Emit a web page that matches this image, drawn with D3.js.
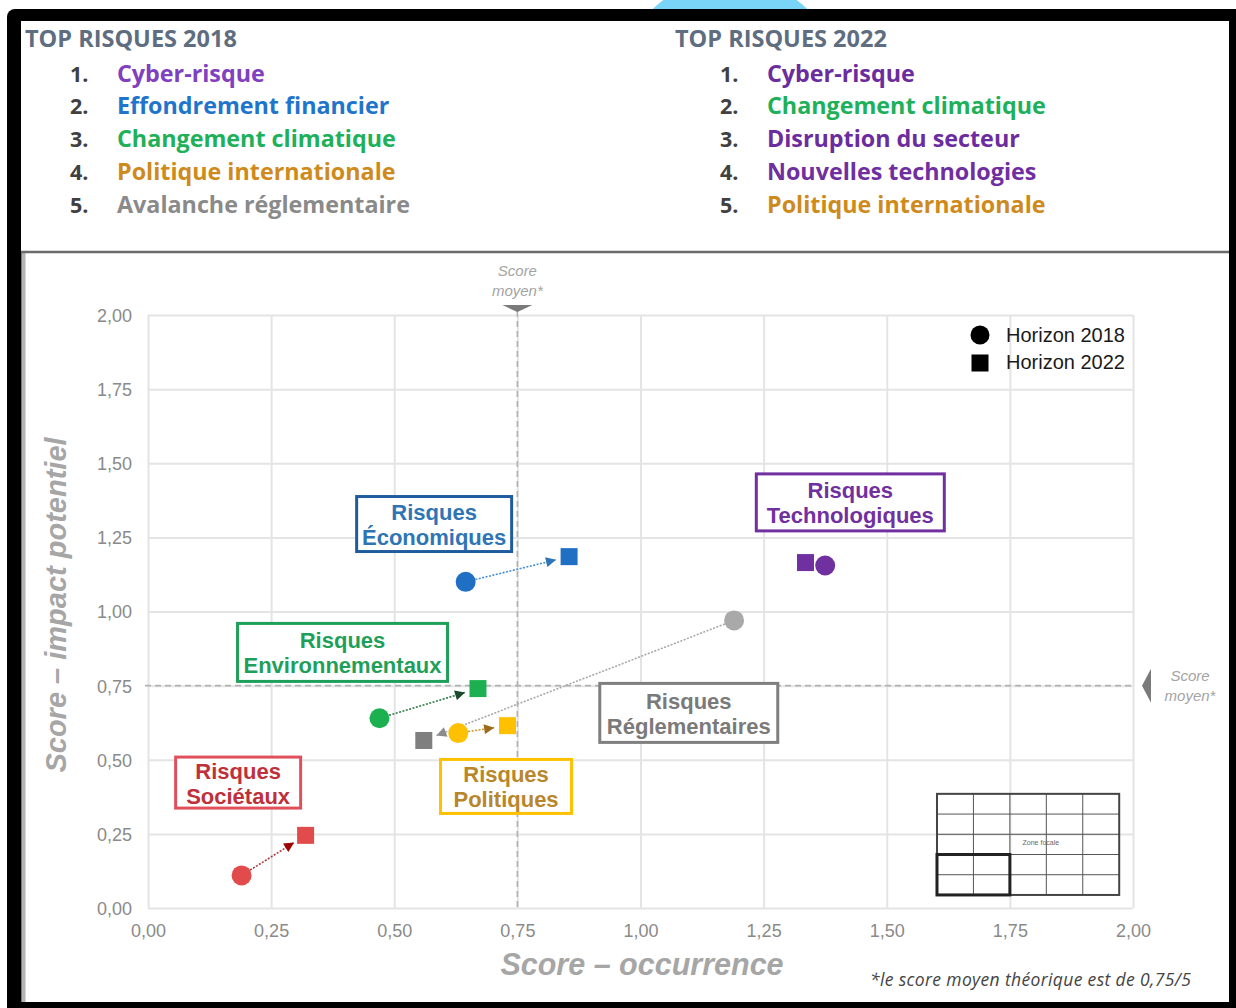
<!DOCTYPE html>
<html lang="fr">
<head>
<meta charset="utf-8">
<script src="https://cdn.jsdelivr.net/npm/d3@7"></script>
<style>
  html, body { margin: 0; padding: 0; background: #ffffff; }
  svg { display: block; }
</style>
</head>
<body>
<svg id="chart" width="1236" height="1008"></svg>
<script>
// ---- Données ----
const categories = ["Économiques", "Technologiques", "Environnementaux", "Réglementaires", "Sociétaux", "Politiques"];
const occurrence2018 = [0.645, 1.375, 0.47, 1.19, 0.19, 0.63];
const impact2018     = [1.10, 1.155, 0.64, 0.97, 0.11, 0.59];
const occurrence2022 = [0.855, 1.335, 0.67, 0.56, 0.32, 0.73];
const impact2022     = [1.185, 1.165, 0.74, 0.565, 0.245, 0.615];
const meanScore = 0.75;

const xTicks = [0, 0.25, 0.5, 0.75, 1, 1.25, 1.5, 1.75, 2];
const yTicks = [0, 0.25, 0.5, 0.75, 1, 1.25, 1.5, 1.75, 2];

const top2018 = ["Cyber-risque", "Effondrement financier", "Changement climatique", "Politique internationale", "Avalanche réglementaire"];
const top2022 = ["Cyber-risque", "Changement climatique", "Disruption du secteur", "Nouvelles technologies", "Politique internationale"];

const seriesNames = ["Horizon 2018", "Horizon 2022"];

// ---- Styles ----
const top2018Colors = ["#8040c0", "#1f74cc", "#20b05a", "#cf8a1c", "#8a8a8a"];
const top2022Colors = ["#6a2c9e", "#20b05a", "#6a2c9e", "#6f2fa0", "#cf8a1c"];

const catStyle = [
  { pt18: "#1f6fc5", pt22: "#1f6fc5", line: "#4a8ed0", head: "#2e75b6", text: "#2e75b6", box: "#1f5c9e" },
  { pt18: "#7030a0", pt22: "#7030a0", line: "#7030a0", head: "#7030a0", text: "#7030a0", box: "#7030a0" },
  { pt18: "#1db050", pt22: "#1db050", line: "#2f7a45", head: "#1b4a2c", text: "#1fa05a", box: "#1fa05a" },
  { pt18: "#a9a9a9", pt22: "#7f7f7f", line: "#a8a8a8", head: "#8c8c8c", text: "#7a7a7a", box: "#7f7f7f" },
  { pt18: "#e24b4b", pt22: "#e24b4b", line: "#b03a3a", head: "#a00000", text: "#c0303a", box: "#e0505a" },
  { pt18: "#ffc000", pt22: "#ffc000", line: "#d09020", head: "#9c6b1a", text: "#b8862b", box: "#ffc000" }
];

// Emplacement des cartouches (centre en unités du graphique, taille en px)
const boxLayout = [
  { cx: 0.581, cy: 1.295, w: 155, h: 55 },
  { cx: 1.426, cy: 1.368, w: 188, h: 57 },
  { cx: 0.395, cy: 0.862, w: 210, h: 58 },
  { cx: 1.098, cy: 0.658, w: 178, h: 59 },
  { cx: 0.183, cy: 0.423, w: 125, h: 51 },
  { cx: 0.727, cy: 0.410, w: 131, h: 54 }
];

const svg = d3.select("#chart");

// ---- Cadre ----
svg.append("circle").attr("cx", 730).attr("cy", 90).attr("r", 112).attr("fill", "#7ad4f8");
svg.append("rect").attr("x", 7).attr("y", 9).attr("width", 1250).attr("height", 1020)
  .attr("rx", 8).attr("fill", "#000");
svg.append("rect").attr("x", 21).attr("y", 21).attr("width", 1208).attr("height", 981).attr("fill", "#fff");
svg.append("rect").attr("x", 21).attr("y", 252).attr("width", 4.5).attr("height", 750).attr("fill", "#b4b4b4");
svg.append("line").attr("x1", 21.5).attr("x2", 21.5).attr("y1", 252).attr("y2", 1002)
  .attr("stroke", "#7a7a7a").attr("stroke-width", 1);
svg.append("line").attr("x1", 21).attr("x2", 1229).attr("y1", 252).attr("y2", 252)
  .attr("stroke", "#6a6a6a").attr("stroke-width", 2.5);

// ---- Listes des principaux risques ----
function drawList(x0, title, items, colors) {
  const g = svg.append("g").attr("font-family", "'Open Sans', Lato, sans-serif").attr("font-weight", 700);
  g.append("text").attr("x", x0).attr("y", 46.5).attr("font-size", 23.5)
    .attr("fill", "#5e6e80").text(title);
  items.forEach((d, i) => {
    const y = 81.5 + i * 32.8;
    g.append("text").attr("x", x0 + 45).attr("y", y).attr("font-size", 21.5)
      .attr("fill", "#404040").text((i + 1) + ".");
    g.append("text").attr("x", x0 + 92).attr("y", y).attr("font-size", 23.3)
      .attr("fill", colors[i]).text(d);
  });
}
drawList(25, "TOP RISQUES 2018", top2018, top2018Colors);
drawList(675, "TOP RISQUES 2022", top2022, top2022Colors);

// ---- Graphique ----
const x = d3.scaleLinear().domain([0, 2]).range([148, 1133]);
const y = d3.scaleLinear().domain([0, 2]).range([908, 315]);
const fmt = v => d3.format(".2f")(v).replace(".", ",");

const plot = svg.append("g").attr("font-family", "'Liberation Sans', Arial, sans-serif");

const xAxis = plot.append("g").attr("transform", `translate(0,${y(0)})`)
  .call(d3.axisBottom(x).tickValues(xTicks).tickFormat(fmt)
    .tickSize(-(y(0) - y(2))).tickPadding(16));
const yAxis = plot.append("g").attr("transform", `translate(${x(0)},0)`)
  .call(d3.axisLeft(y).tickValues(yTicks).tickFormat(fmt)
    .tickSize(-(x(2) - x(0))).tickPadding(16));
[xAxis, yAxis].forEach(a => {
  a.select(".domain").remove();
  a.selectAll(".tick line").attr("stroke", "#e4e4e4").attr("stroke-width", 2);
  a.selectAll(".tick text").attr("font-size", 18).attr("fill", "#8a8a8a")
    .attr("font-family", "'Liberation Sans', Arial, sans-serif");
});
yAxis.selectAll(".tick text").attr("dy", "0.36em");

// Lignes du score moyen
plot.append("line").attr("x1", x(meanScore)).attr("x2", x(meanScore))
  .attr("y1", y(2) - 4).attr("y2", y(0))
  .attr("stroke", "#b2b2b2").attr("stroke-width", 1.6).attr("stroke-dasharray", "6,4");
plot.append("line").attr("x1", x(0) - 3).attr("x2", x(2))
  .attr("y1", y(meanScore)).attr("y2", y(meanScore))
  .attr("stroke", "#b2b2b2").attr("stroke-width", 1.6).attr("stroke-dasharray", "6,4");

// Repères « Score moyen* »
const mx = x(meanScore), my = y(meanScore);
plot.append("path").attr("d", `M${mx - 15},${y(2) - 10} L${mx + 15},${y(2) - 10} L${mx},${y(2) - 3} Z`)
  .attr("fill", "#7a7a7a");
plot.append("path").attr("d", `M${x(2) + 9},${my} L${x(2) + 18},${my - 17} L${x(2) + 18},${my + 17} Z`)
  .attr("fill", "#7a7a7a");
const meanLbl = plot.append("g").attr("font-style", "italic").attr("font-size", 15)
  .attr("fill", "#a4a4a4").attr("text-anchor", "middle");
meanLbl.append("text").attr("x", mx).attr("y", 276).text("Score");
meanLbl.append("text").attr("x", mx).attr("y", 296).text("moyen*");
meanLbl.append("text").attr("x", x(2) + 57).attr("y", my - 5).text("Score");
meanLbl.append("text").attr("x", x(2) + 57).attr("y", my + 15).text("moyen*");

// Titres des axes
plot.append("text").attr("x", 642).attr("y", 975).attr("text-anchor", "middle")
  .attr("font-size", 30.5).attr("font-style", "italic").attr("font-weight", 700)
  .attr("fill", "#a6a6a6").text("Score – occurrence");
plot.append("text").attr("transform", "translate(66,605) rotate(-90)").attr("text-anchor", "middle")
  .attr("font-size", 29).attr("font-style", "italic").attr("font-weight", 700)
  .attr("fill", "#a6a6a6").text("Score – impact potentiel");

// Note de bas de page
svg.append("text").attr("x", 870).attr("y", 986).attr("font-family", "'Open Sans', sans-serif")
  .attr("font-style", "italic").attr("font-size", 17.5).attr("letter-spacing", 0.35).attr("fill", "#444")
  .text("*le score moyen théorique est de 0,75/5");

// Encart « Zone focale »
const inset = { x0: 1.602, x1: 1.972, y0: 0.044, y1: 0.385, n: 5, focus: 2 };
const ig = plot.append("g");
const ix = d3.scaleLinear().domain([0, inset.n]).range([x(inset.x0), x(inset.x1)]);
const iy = d3.scaleLinear().domain([0, inset.n]).range([y(inset.y0), y(inset.y1)]);
d3.range(1, inset.n).forEach(k => {
  ig.append("line").attr("x1", ix(k)).attr("x2", ix(k)).attr("y1", iy(0)).attr("y2", iy(inset.n))
    .attr("stroke", "#555").attr("stroke-width", 1);
  ig.append("line").attr("x1", ix(0)).attr("x2", ix(inset.n)).attr("y1", iy(k)).attr("y2", iy(k))
    .attr("stroke", "#555").attr("stroke-width", 1);
});
ig.append("rect").attr("x", ix(0)).attr("y", iy(inset.n)).attr("width", ix(inset.n) - ix(0))
  .attr("height", iy(0) - iy(inset.n)).attr("fill", "none").attr("stroke", "#444").attr("stroke-width", 2);
ig.append("rect").attr("x", ix(0)).attr("y", iy(inset.focus)).attr("width", ix(inset.focus) - ix(0))
  .attr("height", iy(0) - iy(inset.focus)).attr("fill", "none").attr("stroke", "#222").attr("stroke-width", 3);
ig.append("text").attr("x", ix(2.85)).attr("y", iy(2.45)).attr("font-size", 7).attr("fill", "#666")
  .attr("text-anchor", "middle").text("Zone focale");

// Légende
const leg = plot.append("g").attr("font-size", 20).attr("fill", "#1a1a1a");
leg.append("circle").attr("cx", 980).attr("cy", 335).attr("r", 9.5).attr("fill", "#000");
leg.append("rect").attr("x", 971.5).attr("y", 354.5).attr("width", 17).attr("height", 17).attr("fill", "#000");
leg.append("text").attr("x", 1006).attr("y", 342).text(seriesNames[0]);
leg.append("text").attr("x", 1006).attr("y", 369).text(seriesNames[1]);

// Cartouches des familles de risques
categories.forEach((c, i) => {
  const b = boxLayout[i], s = catStyle[i];
  const cx = x(b.cx), cy = y(b.cy);
  const g = plot.append("g");
  g.append("rect").attr("x", cx - b.w / 2).attr("y", cy - b.h / 2).attr("width", b.w).attr("height", b.h)
    .attr("fill", "#fff").attr("stroke", s.box).attr("stroke-width", 3);
  const t = g.append("text").attr("text-anchor", "middle").attr("font-weight", 700)
    .attr("font-size", 22).attr("fill", s.text);
  t.append("tspan").attr("x", cx).attr("y", cy - 4).text("Risques");
  t.append("tspan").attr("x", cx).attr("y", cy + 21).text(c);
});

// Flèches 2018 -> 2022
const defs = svg.append("defs");
const r18 = 10, sq = 17;
categories.forEach((c, i) => {
  const s = catStyle[i];
  const x1 = x(occurrence2018[i]), y1 = y(impact2018[i]);
  const x2 = x(occurrence2022[i]), y2 = y(impact2022[i]);
  const dx = x2 - x1, dy = y2 - y1, len = Math.hypot(dx, dy);
  if (len < 35) return;
  const ux = dx / len, uy = dy / len;
  defs.append("marker").attr("id", "fl" + i).attr("viewBox", "0 0 10 10")
    .attr("refX", 10).attr("refY", 5).attr("markerWidth", 12).attr("markerHeight", 10)
    .attr("markerUnits", "userSpaceOnUse").attr("orient", "auto")
    .append("path").attr("d", "M0,0 L10,5 L0,10 Z").attr("fill", s.head);
  const endGap = sq / 2 + 5;
  plot.append("line")
    .attr("x1", x1 + ux * r18).attr("y1", y1 + uy * r18)
    .attr("x2", x2 - ux * endGap).attr("y2", y2 - uy * endGap)
    .attr("stroke", s.line).attr("stroke-width", 1.6).attr("stroke-dasharray", "2,1.5")
    .attr("marker-end", `url(#fl${i})`);
});

// Points : carrés (2022) puis cercles (2018)
plot.append("g").selectAll("rect").data(categories).join("rect")
  .attr("x", (d, i) => x(occurrence2022[i]) - sq / 2)
  .attr("y", (d, i) => y(impact2022[i]) - sq / 2)
  .attr("width", sq).attr("height", sq)
  .attr("fill", (d, i) => catStyle[i].pt22);
plot.append("g").selectAll("circle").data(categories).join("circle")
  .attr("cx", (d, i) => x(occurrence2018[i]))
  .attr("cy", (d, i) => y(impact2018[i]))
  .attr("r", r18)
  .attr("fill", (d, i) => catStyle[i].pt18);
</script>
</body>
</html>
